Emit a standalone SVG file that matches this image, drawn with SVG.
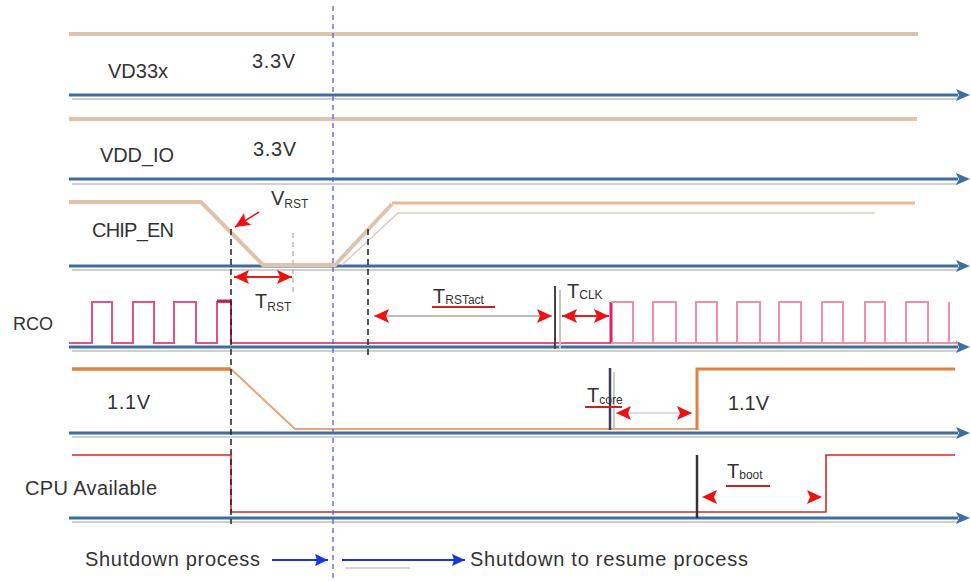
<svg xmlns="http://www.w3.org/2000/svg" width="971" height="581" viewBox="0 0 971 581">
<style>
text{font-family:"Liberation Sans",Arial,sans-serif;fill:#333;font-size:20px}
.sub{font-size:12px}
.axis{stroke:#3d6e9e;stroke-width:3;fill:none}
.shadow{stroke:#cfcfcf;stroke-width:2;fill:none}
.beige{stroke:#dfc2aa;stroke-width:4;fill:none}
.dash{stroke:#222;stroke-width:1.5;stroke-dasharray:6 4;fill:none}
.red{stroke:#e02020;stroke-width:2;fill:none}
.ul{stroke:#cc1f1f;stroke-width:2}
</style>
<defs>
<marker id="ax" markerUnits="userSpaceOnUse" markerWidth="16" markerHeight="16" refX="2" refY="8" orient="auto">
<path d="M0,2 L14,8 L0,14 L3,8 z" fill="#3d6e9e"/>
</marker>
<marker id="ra" markerUnits="userSpaceOnUse" markerWidth="16" markerHeight="14" refX="15" refY="7" orient="auto-start-reverse">
<path d="M0,0 L15,7 L0,14 L3,7 z" fill="#ee1111"/>
</marker>
<marker id="ba" markerUnits="userSpaceOnUse" markerWidth="14" markerHeight="14" refX="13" refY="7" orient="auto">
<path d="M0,1 L13,7 L0,13 L2,7 z" fill="#1a35d8"/>
</marker>
</defs>

<g id="axes">
<line class="shadow" x1="72" y1="99" x2="958" y2="99"/>
<line class="shadow" x1="72" y1="184" x2="958" y2="184"/>
<line class="shadow" x1="72" y1="270" x2="958" y2="270"/>
<line class="shadow" x1="72" y1="351" x2="958" y2="351"/>
<line class="shadow" x1="72" y1="437" x2="958" y2="437"/>
<line class="shadow" x1="72" y1="522" x2="958" y2="522"/>
<line class="axis" x1="69" y1="95" x2="958" y2="95" marker-end="url(#ax)"/>
<line class="axis" x1="69" y1="179" x2="958" y2="179" marker-end="url(#ax)"/>
<line class="axis" x1="69" y1="266" x2="958" y2="266" marker-end="url(#ax)"/>
<line class="axis" x1="69" y1="347" x2="958" y2="347" marker-end="url(#ax)"/>
<line class="axis" x1="69" y1="433" x2="958" y2="433" marker-end="url(#ax)"/>
<line class="axis" x1="69" y1="518" x2="958" y2="518" marker-end="url(#ax)"/>
</g>

<g id="vd33x">
<line class="beige" x1="69" y1="34" x2="918" y2="34"/>
<text x="108" y="78" textLength="60">VD33x</text>
<text x="252" y="68" textLength="43">3.3V</text>
</g>

<g id="vdd_io">
<line class="beige" x1="69" y1="119" x2="917" y2="119"/>
<text x="100" y="162" textLength="74">VDD_IO</text>
<text x="253" y="156" textLength="43">3.3V</text>
</g>

<g id="chip_en">
<path class="beige" d="M69,202 H201 L263,265 H335 L392,204"/>
<line x1="392" y1="203" x2="915" y2="203" stroke="#f2b68c" stroke-width="3"/>
<path d="M342,265 L398,213 H875" stroke="#dccbc0" stroke-width="1.5" fill="none"/>
<text x="92" y="237" textLength="82">CHIP_EN</text>
<text x="271" y="205">V<tspan class="sub" dy="3">RST</tspan></text>
</g>

<g id="rco">
<path d="M69,343 H92 V302 H112 V343 H133 V302 H154 V343 H174 V302 H196 V343 H217 V302 H231 V343 H611" stroke="#e4508a" stroke-width="2" fill="none"/>
<line x1="217" y1="301" x2="231" y2="301" stroke="#c0205a" stroke-width="3"/>
<line x1="231" y1="301" x2="231" y2="343" stroke="#c8205a" stroke-width="2"/>
<line x1="611" y1="343" x2="611" y2="302" stroke="#e0206a" stroke-width="3"/>
<path d="M611,343 H958 M611,302 H633 V343 H653 V302 H676 V343 H696 V302 H717 V343 H737 V302 H760 V343 H779 V302 H801 V343 H822 V302 H843 V343 H865 V302 H885 V343 H906 V302 H928 V343 H949 V302" stroke="#f08eb0" stroke-width="2" fill="none"/>
<text x="13" y="330" style="font-size:18px">RCO</text>
</g>

<g id="core">
<line x1="72" y1="369" x2="231" y2="369" stroke="#e0823c" stroke-width="3.5"/>
<path d="M231,369 L295,429 H697" stroke="#eba474" stroke-width="2" fill="none"/>
<path d="M697,430 V369 H955" stroke="#e0823c" stroke-width="3" fill="none"/>
<text x="107" y="409" textLength="43">1.1V</text>
<text x="728" y="410" textLength="41">1.1V</text>
</g>

<g id="cpu">
<path d="M72,455 H231 V512 H826 V455 H955" stroke="#d42a2a" stroke-width="1.6" fill="none"/>
<text x="25" y="495" textLength="132">CPU Available</text>
</g>

<g id="markers">
<line x1="333" y1="6" x2="333" y2="581" stroke="#5a5ae0" stroke-width="1.3" stroke-dasharray="5 4"/>
<line class="dash" x1="231" y1="229" x2="231" y2="524"/>
<line class="dash" x1="368" y1="229" x2="368" y2="357"/>
<line x1="293" y1="233" x2="293" y2="292" stroke="#bbb" stroke-width="1.5" stroke-dasharray="5 4"/>
<line x1="555" y1="286" x2="555" y2="349" stroke="#444" stroke-width="2"/>
<line x1="560" y1="290" x2="560" y2="349" stroke="#c4c4c4" stroke-width="2"/>
<line x1="610" y1="368" x2="610" y2="430" stroke="#3c3c58" stroke-width="2.5"/>
<line x1="614" y1="372" x2="614" y2="430" stroke="#bbb" stroke-width="1.5"/>
<line x1="697" y1="455" x2="697" y2="518" stroke="#333" stroke-width="2.5"/>
</g>

<g id="connectors">
<line x1="259" y1="212" x2="235" y2="227" stroke="#ee1111" stroke-width="1.5" marker-end="url(#ra)"/>
<line class="red" x1="234" y1="277" x2="292" y2="277" marker-start="url(#ra)" marker-end="url(#ra)"/>
<line x1="374" y1="316" x2="552" y2="316" stroke="#bdbdbd" stroke-width="2" marker-start="url(#ra)" marker-end="url(#ra)"/>
<line class="red" x1="562" y1="316" x2="609" y2="316" marker-start="url(#ra)" marker-end="url(#ra)"/>
<line x1="616" y1="413" x2="692" y2="413" stroke="#b8b8b8" stroke-width="1" marker-start="url(#ra)" marker-end="url(#ra)"/>
<line x1="702" y1="497" x2="822" y2="497" stroke="#f4f4f4" stroke-width="1" marker-start="url(#ra)" marker-end="url(#ra)"/>
<line x1="272" y1="560" x2="328" y2="560" stroke="#1a35d8" stroke-width="2" marker-end="url(#ba)"/>
<line x1="342" y1="560" x2="465" y2="560" stroke="#1a35d8" stroke-width="2" marker-end="url(#ba)"/>
<line x1="345" y1="568" x2="410" y2="568" stroke="#c8c8c8" stroke-width="1.5"/>
</g>

<g id="timing-labels">
<text x="255" y="308">T<tspan class="sub" dy="3">RST</tspan></text>
<text x="433" y="303">T<tspan class="sub" dy="1">RSTact</tspan></text>
<line class="ul" x1="432" y1="307" x2="495" y2="307"/>
<text x="567" y="298">T<tspan class="sub" dy="1">CLK</tspan></text>
<text x="587" y="402">T<tspan class="sub" dy="2">core</tspan></text>
<line class="ul" x1="585" y1="407" x2="622" y2="407"/>
<text x="727" y="478">T<tspan class="sub" dy="1">boot</tspan></text>
<line class="ul" x1="726" y1="486" x2="770" y2="486"/>
</g>

<g id="legend">
<text x="85" y="566" textLength="175">Shutdown process</text>
<text x="470" y="566" textLength="278">Shutdown to resume process</text>
</g>
</svg>
